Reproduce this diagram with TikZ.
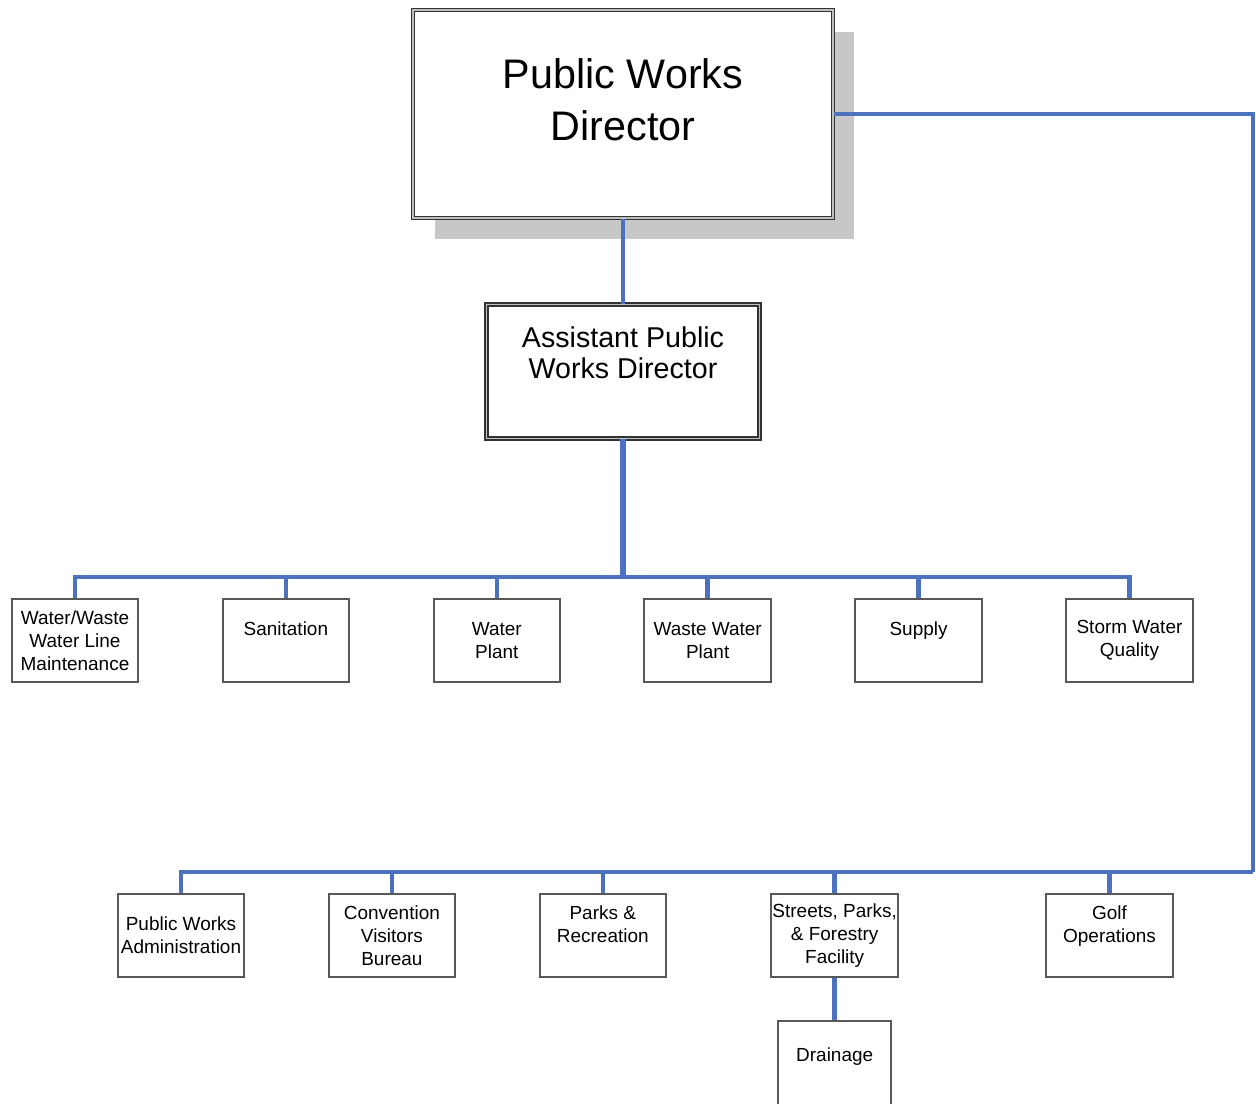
\documentclass[tikz,border=0pt]{standalone}
\usepackage{fontspec}
\setmainfont{Liberation Sans}
\usetikzlibrary{positioning,shadows}
\definecolor{pwblue}{RGB}{76,114,190}
\definecolor{pwgray}{RGB}{88,88,88}

\begin{document}
\begin{tikzpicture}[
    x=0.02cm, y=-0.02cm,
    node distance=1.65cm,
    head/.style={rectangle, draw=black!80, double=black!25, double distance=0.9pt, line width=0.8pt, fill=white, align=center, inner sep=0pt},
    unit/.style={rectangle, draw=pwgray, line width=1.1pt, fill=white, align=center, minimum width=2.53cm, minimum height=1.66cm, inner sep=0pt, font=\fontsize{10.8}{13}\selectfont},
    link/.style={draw=pwblue, line width=2.5pt}
]
\useasboundingbox (0,0) rectangle (1256,1103);

% Director
\node[head, minimum width=8.4cm, minimum height=4.16cm, font=\fontsize{23.5}{29.5}\selectfont,
      drop shadow={shadow xshift=0.43cm, shadow yshift=-0.43cm, fill=black!22, opacity=1}]
      (dir) at (623,114) {Public Works\\Director\\[-13.1pt]\mbox{}};

% Assistant
\node[head, below=1.7cm of dir, minimum width=5.46cm, minimum height=2.68cm, font=\fontsize{16.3}{18}\selectfont]
      (asst) {Assistant Public\\Works Director\\[3.5pt]\mbox{}};

% Divisions under the assistant
\node[unit] (ww) at (75,640.5) {Water/Waste\\Water Line\\Maintenance};
\node[unit, right=of ww] (sani) {Sanitation\\\mbox{}};
\node[unit, right=of sani] (wplant) {Water\\Plant};
\node[unit, right=of wplant] (wwplant) {Waste Water\\Plant};
\node[unit, right=of wwplant] (supply) {Supply\\\mbox{}};
\node[unit, right=of supply] (storm) {Storm Water\\Quality};

% Divisions under the director
\node[unit] (pwa) at (181,935.5) {Public Works\\Administration};
\node[unit, right=of pwa] (cvb) {Convention\\Visitors\\Bureau};
\node[unit, right=of cvb] (parks) {Parks \&\\Recreation\\\mbox{}};
\node[unit, right=2.07cm of parks] (streets) {Streets, Parks,\\\& Forestry\\Facility};
\node[unit, right=2.93cm of streets] (golf) {Golf\\Operations\\\mbox{}};
\node[unit, below=0.84cm of streets, minimum width=2.26cm, minimum height=1.8cm] (drain) {Drainage\\\mbox{}};

% Hubs
\coordinate (hub1) at (623,577);
\coordinate (hub2) at (1253,872);

% Links
\draw[link] (dir) -- (asst);
\draw[link, line width=3.6pt] (asst) -- (hub1);
\foreach \n in {ww,sani,wplant,wwplant,supply,storm}
    \draw[link] (hub1) -| (\n.north);
\draw[link] (dir.east) -| (hub2);
\foreach \n in {pwa,cvb,parks,streets,golf}
    \draw[link] (hub2) -| (\n.north);
\draw[link] (streets) -- (drain);

\end{tikzpicture}
\end{document}
